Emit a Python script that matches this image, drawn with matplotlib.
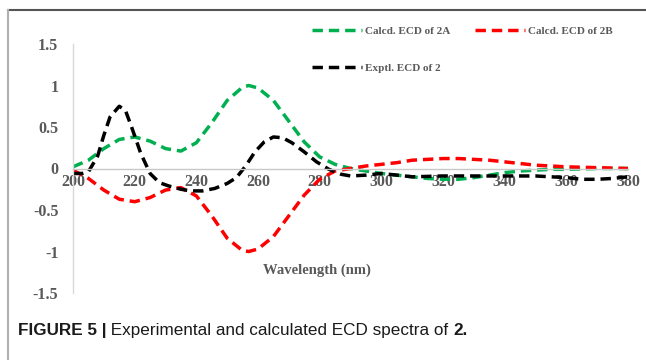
import numpy as np
import matplotlib.pyplot as plt
from matplotlib.lines import Line2D

# wavelength (nm) and ECD values
wl_2a = [200, 205, 210, 215, 220, 225, 230, 235, 240, 245, 250, 255, 257, 260,
         265, 270, 275, 280, 285, 290, 295, 300, 305, 310, 315, 320, 325, 330,
         335, 340, 345, 350, 355, 360, 370, 380]
ecd_2a = [0.02, 0.10, 0.24, 0.35, 0.38, 0.33, 0.24, 0.21, 0.31, 0.55, 0.82, 0.98,
          1.0, 0.97, 0.82, 0.57, 0.32, 0.14, 0.05, 0.0, -0.03, -0.06, -0.08,
          -0.10, -0.12, -0.13, -0.13, -0.11, -0.08, -0.05, -0.03, -0.02, -0.01,
          -0.01, 0.0, 0.0]

wl_2b = [200, 205, 210, 215, 220, 225, 230, 235, 240, 245, 250, 255, 257, 260,
         265, 270, 275, 280, 285, 290, 295, 300, 305, 310, 315, 320, 325, 330,
         335, 340, 345, 350, 360, 370, 380]
ecd_2b = [-0.02, -0.12, -0.26, -0.37, -0.40, -0.35, -0.26, -0.23, -0.33, -0.57,
          -0.84, -0.99, -1.0, -0.97, -0.82, -0.57, -0.32, -0.13, -0.03, 0.0,
          0.03, 0.05, 0.07, 0.10, 0.11, 0.12, 0.12, 0.11, 0.10, 0.08, 0.06,
          0.04, 0.02, 0.01, 0.0]

wl_exp = [200, 203, 205, 208, 210, 212, 215, 217, 219, 222, 225, 228, 231, 235,
          238, 242, 246, 250, 253, 256, 259, 262, 265, 268, 271, 275, 279, 283,
          287, 290, 295, 300, 305, 310, 320, 330, 340, 350, 355, 360, 365, 370,
          375, 380]
ecd_exp = [-0.06, -0.06, -0.04, 0.15, 0.40, 0.62, 0.75, 0.70, 0.50, 0.18, -0.06,
           -0.17, -0.21, -0.25, -0.27, -0.27, -0.24, -0.18, -0.11, 0.03, 0.20,
           0.32, 0.38, 0.37, 0.31, 0.20, 0.08, -0.01, -0.07, -0.09, -0.08, -0.06,
           -0.08, -0.10, -0.09, -0.09, -0.09, -0.09, -0.10, -0.11, -0.13, -0.13,
           -0.12, -0.10]

x_ticks = [200, 220, 240, 260, 280, 300, 320, 340, 360, 380]
y_ticks = [-1.5, -1, -0.5, 0, 0.5, 1, 1.5]
y_labels = ['-1.5', '-1', '-0.5', '0', '0.5', '1', '1.5']

gray = '#595959'
serif = ['Liberation Serif', 'DejaVu Serif']

fig = plt.figure(figsize=(6.46, 3.60), dpi=100)
ax = fig.add_axes([73 / 646, 1 - 293 / 360, 555 / 646, 249 / 360])

lw = 2.5
dash = (3.0, 1.7)
l_a, = ax.plot(wl_2a, ecd_2a, color='#00b050', lw=lw, dashes=dash)
l_b, = ax.plot(wl_2b, ecd_2b, color='#ff0000', lw=lw, dashes=dash)
l_e, = ax.plot(wl_exp, ecd_exp, color='#000000', lw=lw, dashes=dash)

ax.set_xlim(200, 380)
ax.set_ylim(-1.5, 1.5)
ax.set_xticks(x_ticks)
ax.set_yticks(y_ticks)
ax.set_yticklabels(y_labels)

for s in ['top', 'right']:
    ax.spines[s].set_visible(False)
ax.spines['bottom'].set_position(('data', 0))
ax.spines['bottom'].set_color('#c8c8c8')
ax.spines['left'].set_color('#d9d9d9')
ax.spines['bottom'].set_linewidth(1.0)
ax.spines['left'].set_linewidth(1.0)
ax.tick_params(length=0)
ax.tick_params(axis='y', pad=10.5)
ax.tick_params(axis='x', pad=4)
for lab in ax.get_xticklabels() + ax.get_yticklabels():
    lab.set_family(serif)
    lab.set_fontweight('bold')
    lab.set_color(gray)
    lab.set_fontsize(11.5)

ax.text(279, -1.22, 'Wavelength (nm)', ha='center', va='center',
        family=serif, fontweight='bold', color=gray, fontsize=10.5)

# legend entries, placed like the original
leg_font = dict(family=serif, weight='bold', size=8)
for h, lab, anchor in [(l_a, 'Calcd. ECD of 2A', (312 / 646, 1 - 31 / 360)),
                       (l_b, 'Calcd. ECD of 2B', (475 / 646, 1 - 31 / 360)),
                       (l_e, 'Exptl. ECD of 2', (312 / 646, 1 - 68 / 360))]:
    lg = fig.legend([h], [lab], loc='center left', bbox_to_anchor=anchor,
                    frameon=False, prop=leg_font, handlelength=4.5,
                    handletextpad=0.25, borderpad=0, borderaxespad=0)
    for t in lg.get_texts():
        t.set_color(gray)

# page frame
fig.add_artist(Line2D([8 / 646, 1], [1 - 10 / 360, 1 - 10 / 360],
                      transform=fig.transFigure, color='#555555', lw=1.5))
fig.add_artist(Line2D([8 / 646, 8 / 646], [0, 1 - 10 / 360],
                      transform=fig.transFigure, color='#b0b0b0', lw=1.5))

# caption with mixed weights
cap_font = ['Liberation Sans', 'DejaVu Sans']
parts = [('FIGURE 5 |', 'bold'), (' Experimental and calculated ECD spectra of ', 'normal'),
         ('2.', 'bold')]
fig.canvas.draw()
r = fig.canvas.get_renderer()
x = 18
for txt, w in parts:
    t = fig.text(x / 646, 1 - 335 / 360, txt, family=cap_font, fontweight=w,
                 fontsize=12.3, color='#1a1a1a', va='baseline', ha='left')
    bb = t.get_window_extent(renderer=r)
    x += bb.width

fig.savefig('out.png', dpi=100)
